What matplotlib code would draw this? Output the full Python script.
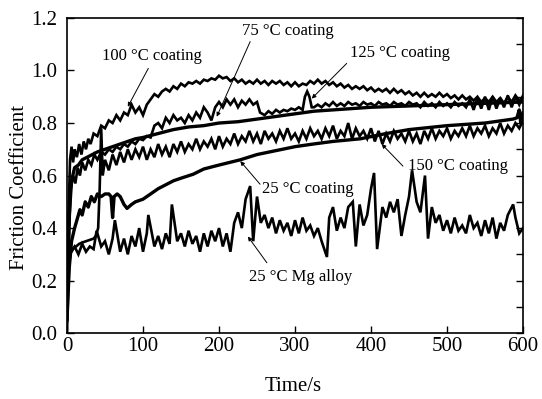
import matplotlib
matplotlib.use("Agg")
import matplotlib.pyplot as plt
from matplotlib.ticker import MultipleLocator

# ---------------- data ----------------
mg_t = [0, 2, 4, 5, 10, 15, 20, 25, 30, 35, 39, 45, 50, 55, 60, 63, 70, 75, 80, 85, 90, 95, 100, 105,
        107, 115, 120, 125, 130, 135, 138, 145, 150, 155, 160, 165, 170, 175, 180, 185, 190, 195, 200,
        205, 210, 215, 220, 225, 230, 235, 241, 245, 250, 255, 260, 265, 270, 275, 280, 285, 290, 295,
        300, 305, 310, 315, 320, 325, 330, 335, 342, 345, 350, 355, 360, 365, 370, 376, 380, 385, 390,
        395, 400, 404, 408, 415, 420, 425, 430, 435, 440, 445, 450, 454, 460, 465, 471, 475, 480, 485,
        490, 495, 500, 505, 510, 515, 520, 525, 530, 535, 540, 545, 550, 555, 560, 565, 570, 575, 580,
        587, 590, 595, 600]
mg_v = [0.00, 0.22, 0.29, 0.31, 0.33, 0.30, 0.34, 0.31, 0.33, 0.32, 0.39, 0.33, 0.35, 0.30, 0.36, 0.43,
        0.31, 0.36, 0.30, 0.37, 0.33, 0.40, 0.31, 0.38, 0.45, 0.33, 0.37, 0.32, 0.38, 0.34, 0.49, 0.35,
        0.38, 0.33, 0.39, 0.34, 0.37, 0.31, 0.38, 0.33, 0.39, 0.35, 0.40, 0.33, 0.38, 0.31, 0.42, 0.46,
        0.40, 0.51, 0.56, 0.35, 0.52, 0.42, 0.45, 0.40, 0.44, 0.38, 0.43, 0.39, 0.42, 0.37, 0.43, 0.38,
        0.44, 0.39, 0.41, 0.37, 0.40, 0.35, 0.29, 0.44, 0.48, 0.39, 0.44, 0.40, 0.48, 0.50, 0.33, 0.49,
        0.41, 0.45, 0.55, 0.61, 0.32, 0.48, 0.44, 0.50, 0.46, 0.51, 0.37, 0.45, 0.52, 0.62, 0.50, 0.46,
        0.60, 0.36, 0.48, 0.42, 0.45, 0.39, 0.43, 0.38, 0.44, 0.39, 0.41, 0.38, 0.45, 0.40, 0.42, 0.37,
        0.43, 0.38, 0.44, 0.36, 0.42, 0.39, 0.45, 0.49, 0.44, 0.38, 0.40]

c150_t = [0, 2, 4, 8, 12, 16, 20, 25, 30, 35, 38, 41, 43, 45, 47, 50, 55, 60, 65, 70, 75, 80, 85, 90,
          95, 100, 105, 110, 115, 120, 125, 130, 135, 140, 145, 150, 155, 160, 165, 170, 175, 180, 185,
          190, 195, 200, 205, 210, 215, 220, 225, 230, 235, 240, 245, 250, 255, 260, 265, 270, 275, 280,
          285, 290, 295, 300, 305, 310, 315, 320, 325, 330, 335, 340, 345, 350, 355, 360, 365, 370, 375,
          380, 385, 390, 395, 400, 405, 410, 415, 420, 425, 430, 435, 440, 445, 450, 455, 460, 465, 470,
          475, 480, 485, 490, 495, 500, 505, 510, 515, 520, 525, 530, 535, 540, 545, 550, 555, 560, 565,
          570, 575, 580, 585, 590, 595, 600]
c150_v = [0.05, 0.25, 0.30, 0.32, 0.33, 0.34, 0.345, 0.35, 0.355, 0.36, 0.37, 0.40, 0.55, 0.78, 0.60,
          0.66, 0.62, 0.68, 0.64, 0.69, 0.65, 0.70, 0.66, 0.70, 0.67, 0.71, 0.66, 0.70, 0.67, 0.72, 0.68,
          0.71, 0.67, 0.72, 0.69, 0.73, 0.69, 0.72, 0.70, 0.74, 0.70, 0.73, 0.71, 0.74, 0.70, 0.75, 0.71,
          0.74, 0.72, 0.76, 0.72, 0.75, 0.73, 0.77, 0.73, 0.76, 0.72, 0.77, 0.74, 0.76, 0.73, 0.77, 0.74,
          0.78, 0.74, 0.76, 0.73, 0.77, 0.74, 0.78, 0.75, 0.77, 0.74, 0.78, 0.75, 0.79, 0.74, 0.77, 0.75,
          0.80, 0.74, 0.78, 0.75, 0.77, 0.74, 0.78, 0.73, 0.77, 0.72, 0.76, 0.73, 0.77, 0.74, 0.76, 0.73,
          0.77, 0.73, 0.76, 0.72, 0.77, 0.74, 0.78, 0.74, 0.77, 0.75, 0.78, 0.74, 0.77, 0.75, 0.78, 0.75,
          0.79, 0.75, 0.78, 0.76, 0.79, 0.75, 0.78, 0.76, 0.80, 0.76, 0.79, 0.77, 0.80, 0.78, 0.81]

c100_t = [0, 2, 4, 6, 8, 10, 13, 16, 19, 22, 25, 28, 31, 35, 40, 45, 50, 55, 60, 65, 70, 75, 80, 85, 90,
          95, 100, 105, 110, 115, 120, 125, 130, 135, 140, 145, 150, 155, 160, 165, 170, 175, 180, 185,
          190, 195, 200, 205, 210, 215, 220, 225, 230, 235, 240, 245, 250, 255, 260, 265, 270, 275, 280,
          285, 290, 295, 300, 305, 310, 315, 320, 325, 330, 335, 340, 345, 350, 355, 360, 365, 370, 375,
          380, 385, 390, 395, 400, 405, 410, 415, 420, 425, 430, 435, 440, 445, 450, 455, 460, 465, 470,
          475, 480, 485, 490, 495, 500, 505, 510, 515, 520, 525, 530, 535, 540, 545, 550, 555, 560, 565,
          570, 575, 580, 585, 590, 595, 600]
c100_v = [0.15, 0.45, 0.66, 0.71, 0.65, 0.70, 0.67, 0.72, 0.68, 0.73, 0.70, 0.74, 0.72, 0.76, 0.75, 0.79,
          0.78, 0.81, 0.80, 0.83, 0.81, 0.84, 0.83, 0.87, 0.84, 0.86, 0.83, 0.87, 0.89, 0.91, 0.90, 0.92,
          0.93, 0.92, 0.94, 0.93, 0.95, 0.94, 0.955, 0.95, 0.96, 0.95, 0.965, 0.96, 0.97, 0.965, 0.98,
          0.97, 0.975, 0.96, 0.97, 0.955, 0.965, 0.95, 0.96, 0.95, 0.965, 0.95, 0.96, 0.945, 0.96, 0.95,
          0.96, 0.945, 0.955, 0.94, 0.955, 0.94, 0.95, 0.945, 0.96, 0.95, 0.965, 0.95, 0.96, 0.945, 0.955,
          0.94, 0.95, 0.935, 0.945, 0.93, 0.94, 0.93, 0.94, 0.925, 0.935, 0.92, 0.93, 0.92, 0.93, 0.915,
          0.93, 0.915, 0.925, 0.91, 0.92, 0.905, 0.915, 0.90, 0.915, 0.90, 0.91, 0.90, 0.915, 0.90, 0.91,
          0.895, 0.905, 0.89, 0.905, 0.89, 0.90, 0.885, 0.90, 0.88, 0.895, 0.88, 0.90, 0.88, 0.895, 0.875,
          0.90, 0.88, 0.905, 0.885, 0.90]

c75_t = [0, 3, 5, 8, 11, 14, 17, 20, 24, 28, 32, 36, 40, 45, 50, 55, 60, 65, 70, 75, 80, 85, 90, 95,
         100, 105, 110, 115, 120, 125, 130, 135, 140, 145, 150, 155, 160, 165, 170, 175, 180, 185, 190,
         195, 200, 205, 210, 215, 220, 225, 230, 235, 240, 245, 250, 254, 260, 265, 270, 275, 280, 285,
         290, 295, 300, 305, 310, 313, 316, 319, 322, 325, 330, 335, 340, 345, 350, 355, 360, 365, 370,
         375, 380, 385, 390, 395, 400, 405, 410, 415, 420, 425, 430, 435, 440, 445, 450, 455, 460, 465,
         470, 475, 480, 485, 490, 495, 500, 505, 510, 515, 520, 525, 530, 535, 540, 545, 550, 555, 560,
         565, 570, 575, 580, 585, 590, 595, 600]
c75_v = [0.10, 0.40, 0.55, 0.60, 0.57, 0.63, 0.60, 0.65, 0.62, 0.66, 0.64, 0.68, 0.66, 0.69, 0.68, 0.70,
         0.69, 0.71, 0.70, 0.72, 0.71, 0.73, 0.72, 0.74, 0.735, 0.75, 0.745, 0.79, 0.80, 0.78, 0.82, 0.80,
         0.83, 0.81, 0.82, 0.80, 0.83, 0.81, 0.84, 0.82, 0.86, 0.84, 0.81, 0.86, 0.88, 0.86, 0.89, 0.87,
         0.89, 0.86, 0.885, 0.87, 0.89, 0.87, 0.88, 0.84, 0.83, 0.845, 0.835, 0.85, 0.84, 0.85, 0.845,
         0.855, 0.85, 0.86, 0.85, 0.90, 0.92, 0.90, 0.86, 0.86, 0.87, 0.86, 0.875, 0.865, 0.88, 0.865,
         0.875, 0.865, 0.88, 0.87, 0.875, 0.865, 0.88, 0.87, 0.875, 0.865, 0.88, 0.87, 0.875, 0.865, 0.88,
         0.87, 0.875, 0.865, 0.88, 0.87, 0.875, 0.86, 0.88, 0.865, 0.875, 0.86, 0.88, 0.865, 0.875, 0.86,
         0.88, 0.865, 0.875, 0.86, 0.89, 0.85, 0.895, 0.855, 0.90, 0.85, 0.90, 0.855, 0.895, 0.86, 0.905,
         0.86, 0.90, 0.87, 0.905]

c125_t = [0, 3, 6, 10, 15, 20, 30, 40, 50, 60, 70, 80, 90, 100, 120, 140, 160, 180, 200, 225, 250, 275,
          300, 325, 350, 375, 400, 450, 500, 550, 600]
c125_v = [0.10, 0.45, 0.58, 0.63, 0.64, 0.66, 0.675, 0.69, 0.70, 0.71, 0.72, 0.73, 0.74, 0.745, 0.76,
          0.775, 0.785, 0.79, 0.80, 0.805, 0.815, 0.825, 0.835, 0.845, 0.85, 0.855, 0.86, 0.865, 0.87,
          0.875, 0.88]

c25_t = [0, 3, 6, 10, 14, 17, 20, 24, 28, 32, 36, 40, 45, 50, 55, 58, 60, 62, 66, 70, 75, 79, 85, 90,
         100, 110, 120, 130, 140, 150, 166, 180, 200, 228, 250, 275, 300, 324, 350, 386, 420, 450, 500,
         550, 587, 592, 595, 597, 600]
c25_v = [0.05, 0.25, 0.35, 0.40, 0.44, 0.47, 0.45, 0.50, 0.48, 0.52, 0.50, 0.53, 0.52, 0.53, 0.53, 0.52,
         0.44, 0.52, 0.53, 0.52, 0.49, 0.475, 0.49, 0.50, 0.51, 0.53, 0.55, 0.565, 0.58, 0.59, 0.605,
         0.625, 0.64, 0.66, 0.68, 0.695, 0.71, 0.72, 0.73, 0.74, 0.76, 0.775, 0.79, 0.80, 0.815, 0.82,
         0.85, 0.80, 0.84]

x_ticks = [0, 100, 200, 300, 400, 500, 600]
y_ticks = [0.0, 0.2, 0.4, 0.6, 0.8, 1.0, 1.2]

# annotations: (text, text position, arrow tip)
labels = ["100 \u00b0C coating", "75 \u00b0C coating", "125 \u00b0C coating",
          "150 \u00b0C coating", "25 \u00b0C coating", "25 \u00b0C Mg alloy"]
label_xy = [(112, 1.054), (290, 1.149), (438, 1.065), (515, 0.636), (317, 0.548), (308, 0.215)]
arrow_start = [(107, 1.008), (241, 1.11), (368, 1.027), (442, 0.636), (254, 0.567), (263, 0.268)]
arrow_tip = [(80, 0.862), (197, 0.824), (322, 0.893), (414, 0.72), (228, 0.655), (238, 0.368)]

# ---------------- plot ----------------
plt.rcParams['font.family'] = ['Liberation Serif', 'DejaVu Serif']

fig = plt.figure(figsize=(5.42, 3.99), dpi=100)
ax = fig.add_axes([0.1236, 0.165, 0.8414, 0.790])

noisy = [(mg_t, mg_v), (c150_t, c150_v), (c100_t, c100_v), (c75_t, c75_v)]
for t, v in noisy:
    ax.plot(t, v, color='black', lw=1.9, solid_joinstyle='miter')
for t, v in [(c125_t, c125_v), (c25_t, c25_v)]:
    ax.plot(t, v, color='black', lw=2.4)

ax.set_xlim(0, 600)
ax.set_ylim(0, 1.2)
ax.set_xticks(x_ticks)
ax.set_yticks(y_ticks)
ax.set_yticklabels([f"{y:.1f}" for y in y_ticks])
ax.tick_params(axis='both', which='major', direction='in', length=5, width=1,
               labelsize=15)
ax.tick_params(axis='x', pad=3)
ax.tick_params(axis='y', pad=7)
ax.tick_params(axis='y', right=True, which='both', direction='in')
ax.yaxis.set_minor_locator(MultipleLocator(0.1))
ax.tick_params(axis='y', which='minor', left=False, right=True, length=5, width=1)
for s in ax.spines.values():
    s.set_linewidth(1.2)

ax.set_xlabel("Time/s", fontsize=15)
ax.set_ylabel("Friction Coefficient", fontsize=15)
ax.xaxis.set_label_coords(0.495, -0.14)
ax.yaxis.set_label_coords(-0.083, 0.463)

for txt, pos, st, tip in zip(labels, label_xy, arrow_start, arrow_tip):
    ax.text(pos[0], pos[1], txt, fontsize=12, ha='center', va='center')
    ax.annotate("", xy=tip, xytext=st,
                arrowprops=dict(arrowstyle='-|>', lw=0.7, color='black',
                                mutation_scale=6, shrinkA=0, shrinkB=0))

fig.savefig("out.png", dpi=100)
